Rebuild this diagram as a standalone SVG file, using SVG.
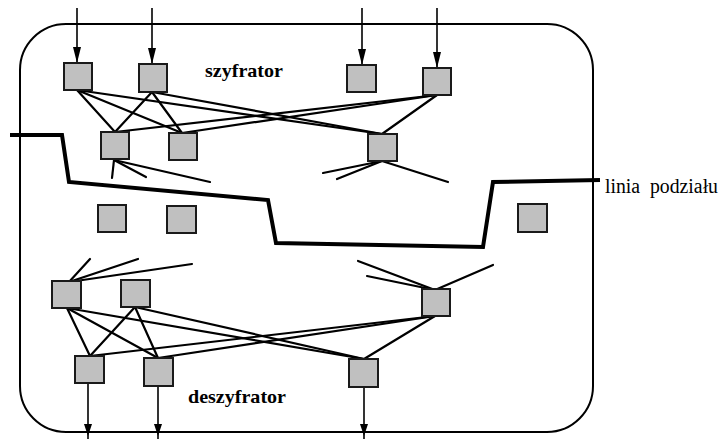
<svg xmlns="http://www.w3.org/2000/svg" width="721" height="439" viewBox="0 0 721 439">
<defs>
<marker id="ah" markerWidth="16" markerHeight="8" refX="16" refY="4" orient="auto" markerUnits="userSpaceOnUse" viewBox="0 0 16 8"><path d="M0,0 L16,4 L0,8 Z" fill="#000"/></marker>
<marker id="ah2" markerWidth="12" markerHeight="8" refX="12" refY="4" orient="auto" markerUnits="userSpaceOnUse" viewBox="0 0 12 8"><path d="M0,0 L12,4 L0,8 Z" fill="#000"/></marker>
</defs>
<style>
.box{fill:#c0c0c0;stroke:#1a1a1a;stroke-width:2}
.ln{stroke:#000;stroke-width:2.2;fill:none;stroke-linecap:round}
.arr{stroke:#000;stroke-width:1.6;fill:none}
.lbl{font-family:"Liberation Serif","Times New Roman",serif;fill:#000}
</style>
<rect id="frame" x="20" y="24" width="573" height="408" rx="46" ry="46" fill="none" stroke="#000" stroke-width="2"/>
<g id="connectors">
<line class="arr" x1="77" y1="8" x2="77" y2="63" marker-end="url(#ah)"/>
<line class="arr" x1="152" y1="8" x2="152" y2="64" marker-end="url(#ah)"/>
<line class="arr" x1="362" y1="8" x2="362" y2="65" marker-end="url(#ah)"/>
<line class="arr" x1="437" y1="8" x2="437" y2="68" marker-end="url(#ah)"/>
<line class="ln" x1="77" y1="90" x2="115" y2="132"/>
<line class="ln" x1="77" y1="90" x2="182" y2="133"/>
<line class="ln" x1="77" y1="90" x2="382" y2="134"/>
<line class="ln" x1="152" y1="92" x2="115" y2="132"/>
<line class="ln" x1="152" y1="92" x2="182" y2="133"/>
<line class="ln" x1="152" y1="92" x2="382" y2="134"/>
<line class="ln" x1="437" y1="95" x2="115" y2="132"/>
<line class="ln" x1="437" y1="95" x2="182" y2="133"/>
<line class="ln" x1="437" y1="95" x2="382" y2="134"/>
<line class="ln" x1="114" y1="160" x2="112" y2="178"/>
<line class="ln" x1="114" y1="160" x2="146" y2="177"/>
<line class="ln" x1="114" y1="160" x2="210" y2="182"/>
<line class="ln" x1="382" y1="161" x2="323" y2="173"/>
<line class="ln" x1="382" y1="161" x2="337" y2="179"/>
<line class="ln" x1="382" y1="161" x2="448" y2="182"/>
<line class="ln" x1="69" y1="282" x2="90" y2="259"/>
<line class="ln" x1="69" y1="282" x2="138" y2="259"/>
<line class="ln" x1="69" y1="282" x2="192" y2="264"/>
<line class="ln" x1="435" y1="290" x2="358" y2="261"/>
<line class="ln" x1="435" y1="290" x2="367" y2="276"/>
<line class="ln" x1="435" y1="290" x2="493" y2="265"/>
<line class="ln" x1="67" y1="308" x2="90" y2="356"/>
<line class="ln" x1="67" y1="308" x2="158" y2="358"/>
<line class="ln" x1="67" y1="308" x2="364" y2="359"/>
<line class="ln" x1="135" y1="307" x2="90" y2="356"/>
<line class="ln" x1="135" y1="307" x2="158" y2="358"/>
<line class="ln" x1="135" y1="307" x2="364" y2="359"/>
<line class="ln" x1="435" y1="316" x2="90" y2="356"/>
<line class="ln" x1="435" y1="316" x2="158" y2="358"/>
<line class="ln" x1="435" y1="316" x2="364" y2="359"/>
<line class="arr" x1="88" y1="384" x2="88" y2="436" marker-end="url(#ah2)"/>
<line class="arr" x1="158" y1="386" x2="158" y2="436" marker-end="url(#ah2)"/>
<line class="arr" x1="364" y1="387" x2="364" y2="436" marker-end="url(#ah2)"/>
<line x1="88" y1="436" x2="88" y2="439" stroke="#000" stroke-width="1.6"/>
<line x1="158" y1="436" x2="158" y2="439" stroke="#000" stroke-width="1.6"/>
<line x1="364" y1="436" x2="364" y2="439" stroke="#000" stroke-width="1.6"/>
</g>
<g id="division-line">
<polyline points="10,135 62,135 69,182 268,200 276,243 483,247 493,182 600,180" fill="none" stroke="#000" stroke-width="4" stroke-linejoin="miter"/>
</g>
<g id="nA"><rect class="box" x="64" y="63" width="28" height="27"/></g>
<g id="nB"><rect class="box" x="139" y="64" width="28" height="28"/></g>
<g id="nC"><rect class="box" x="347" y="65" width="29" height="27"/></g>
<g id="nD"><rect class="box" x="423" y="68" width="28" height="27"/></g>
<g id="nE"><rect class="box" x="101" y="132" width="28" height="27"/></g>
<g id="nF"><rect class="box" x="169" y="133" width="28" height="27"/></g>
<g id="nG"><rect class="box" x="368" y="134" width="29" height="27"/></g>
<g id="nH"><rect class="box" x="98" y="205" width="28" height="27"/></g>
<g id="nI"><rect class="box" x="167" y="206" width="29" height="27"/></g>
<g id="nJ"><rect class="box" x="518" y="204" width="29" height="28"/></g>
<g id="nK"><rect class="box" x="52" y="281" width="29" height="27"/></g>
<g id="nL"><rect class="box" x="121" y="280" width="29" height="27"/></g>
<g id="nM"><rect class="box" x="422" y="289" width="28" height="27"/></g>
<g id="nN"><rect class="box" x="75" y="356" width="29" height="27"/></g>
<g id="nO"><rect class="box" x="144" y="358" width="29" height="28"/></g>
<g id="nP"><rect class="box" x="349" y="359" width="29" height="28"/></g>
<g id="labels">
<text class="lbl" x="205" y="77" font-size="19" font-weight="bold" textLength="78" lengthAdjust="spacingAndGlyphs">szyfrator</text>
<text class="lbl" x="188" y="403" font-size="19" font-weight="bold" textLength="98" lengthAdjust="spacingAndGlyphs">deszyfrator</text>
<text class="lbl" x="605" y="193" font-size="20" textLength="113" lengthAdjust="spacingAndGlyphs" xml:space="preserve">linia  podziału</text>
</g>
</svg>
